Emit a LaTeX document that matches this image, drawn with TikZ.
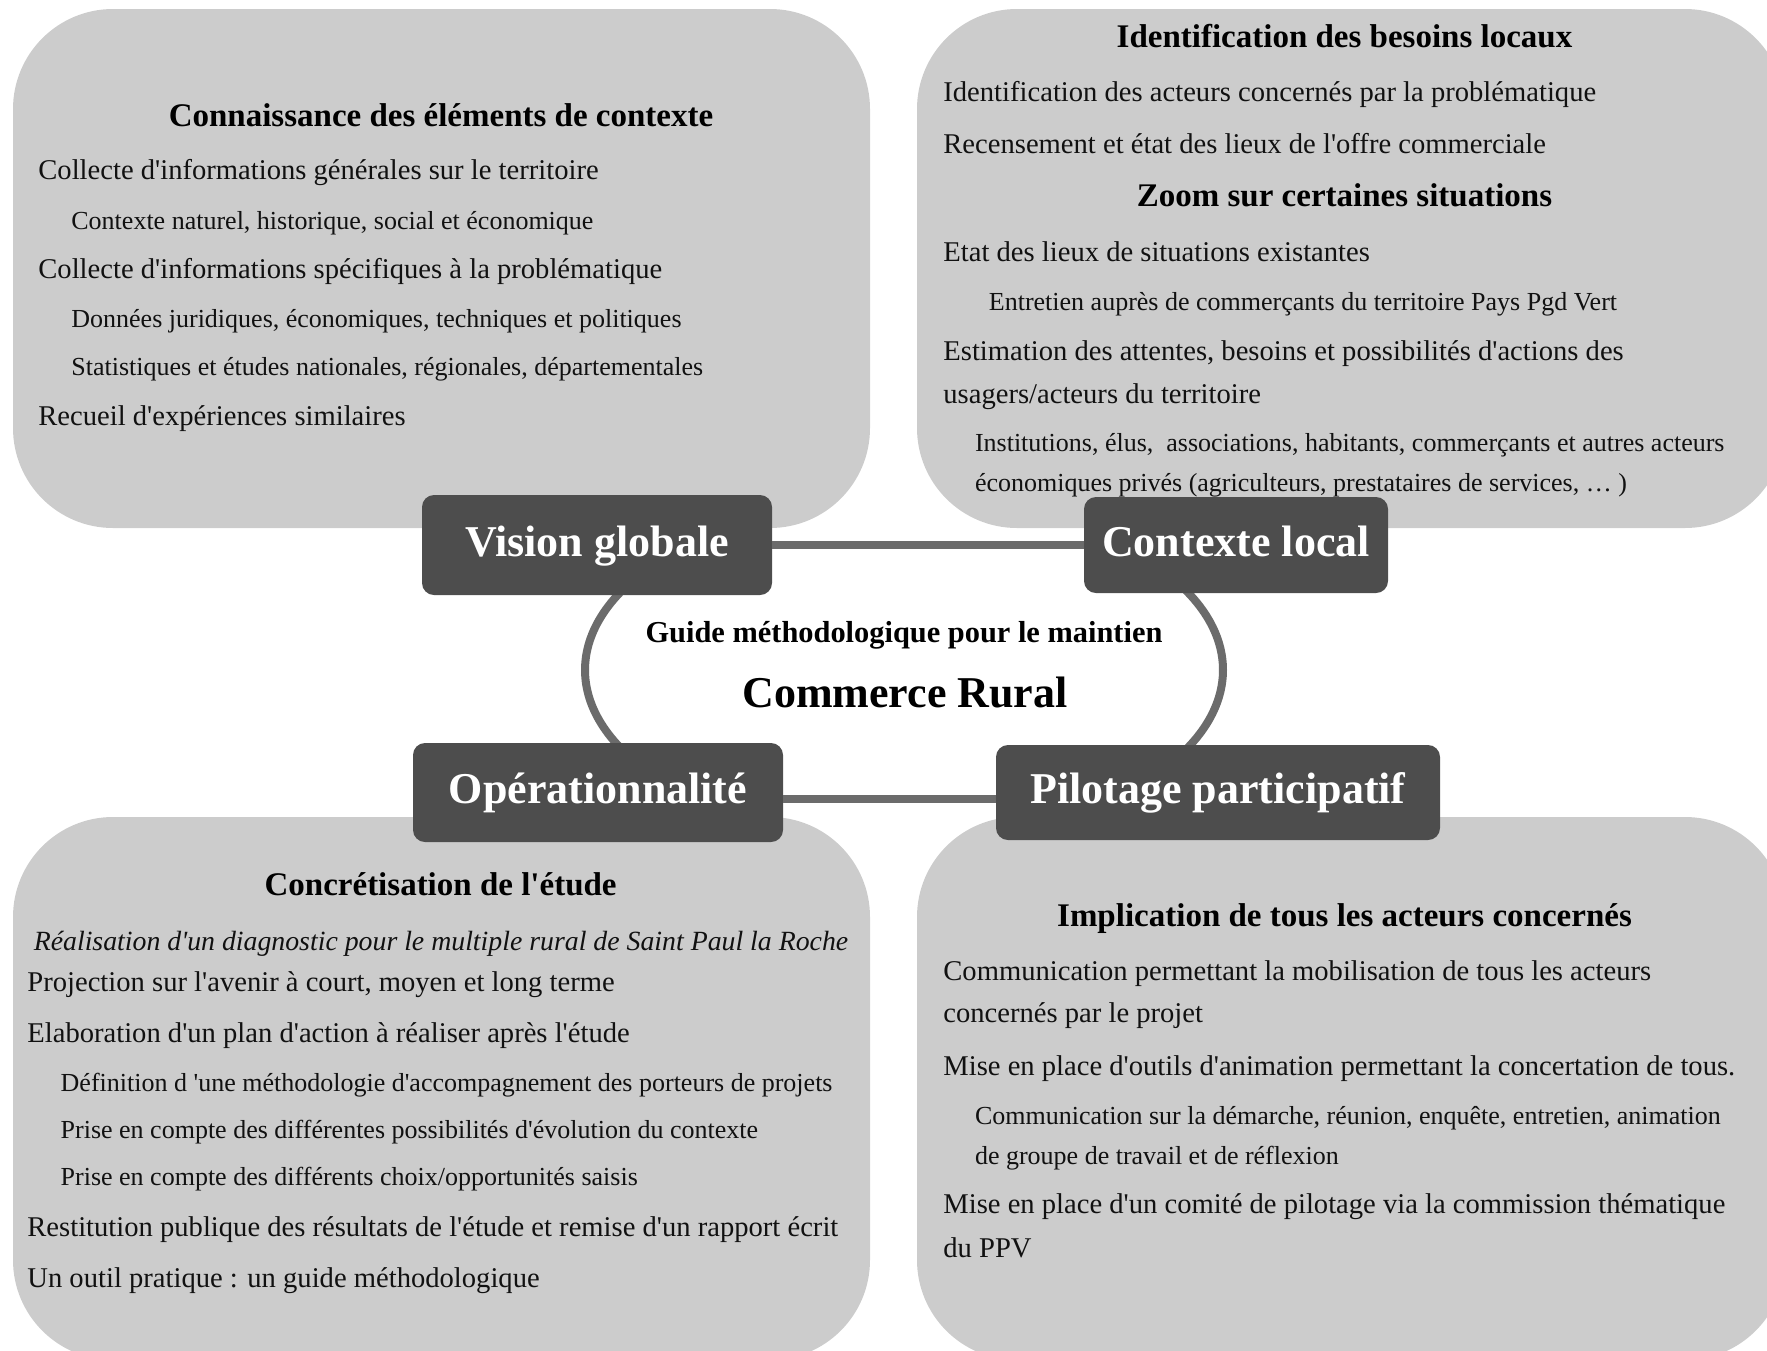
\documentclass[tikz,border=0pt]{standalone}
\usepackage{fontspec}
\setmainfont{Liberation Serif}[Ligatures=TeXOff]
\definecolor{gboxc}{HTML}{CCCCCC}
\definecolor{dboxc}{HTML}{4D4D4D}
\definecolor{linec}{HTML}{6B6B6B}
\definecolor{txtc}{HTML}{111111}
\tikzset{
  gbox/.style={fill=gboxc, rounded corners=50pt, inner sep=0pt, draw=none},
  dbox/.style={fill=dboxc, rounded corners=6pt, text=white, inner sep=0pt, text height=15pt, text depth=3.9pt, font=\fontsize{22}{26}\selectfont\bfseries},
  bodyt/.style={anchor=base west, inner sep=0pt, text=txtc, font=\fontsize{14.3}{17}\selectfont},
  subt/.style={anchor=base west, inner sep=0pt, text=txtc, font=\fontsize{13}{16}\selectfont},
  ttlt/.style={anchor=base, inner sep=0pt, text=black, font=\fontsize{16.5}{20}\selectfont\bfseries},
  itlt/.style={anchor=base, inner sep=0pt, text=txtc, font=\fontsize{13.9}{17}\selectfont\itshape},
  conn/.style={draw=linec, line width=4pt},
}
\begin{document}
\begin{tikzpicture}[x=0.5pt, y=-0.5pt]
\useasboundingbox (0,0) rectangle (1767,1350);
\clip (0,0) rectangle (1767,1350);
% gray panels
\node[gbox, minimum width=428.5pt, minimum height=259.5pt] (tlbox) at (441.5,268.5) {};
\node[gbox, minimum width=434pt, minimum height=259.5pt] (trbox) at (1351,268.5) {};
\node[gbox, minimum width=428.5pt, minimum height=271.5pt] (blbox) at (441.5,1088.5) {};
\node[gbox, minimum width=434pt, minimum height=271.5pt] (brbox) at (1351,1088.5) {};
% ring arcs
\coordinate (ring) at (904,670);
\draw[conn] (ring) ++(140:159.5pt and 85pt) arc[start angle=140, end angle=220, x radius=159.5pt, y radius=85pt];
\draw[conn] (ring) ++(-40:159.5pt and 85pt) arc[start angle=-40, end angle=40, x radius=159.5pt, y radius=85pt];
% dark boxes
\node[dbox, minimum width=175pt, minimum height=50pt] (vg) at (597,545) {Vision globale};
\node[dbox, minimum width=152pt, minimum height=48pt] (cl) at (1236,545) {Contexte local};
\node[dbox, minimum width=185pt, minimum height=49.5pt] (op) at (598,792.5) {Opérationnalité};
\node[dbox, minimum width=222pt, minimum height=47.5pt] (pp) at (1218,792.5) {Pilotage participatif};
\draw[conn] (vg.east) -- (cl.west);
\draw[conn] ([yshift=-3.25pt]op.east) -- ([yshift=-3.25pt]pp.west);
% center
\node[anchor=base, inner sep=0pt, font=\fontsize{15.2}{18}\selectfont\bfseries] (guide) at (904,642) {Guide méthodologique pour le maintien};
\node[anchor=base, inner sep=0pt, font=\fontsize{22}{26}\selectfont\bfseries] (cr) at (905,707) {Commerce Rural};
% top-left panel
\node[ttlt] (tl0) at (441,126) {Connaissance des éléments de contexte};
\node[bodyt] (tl1) at (38,179) {Collecte d'informations générales sur le territoire};
\node[subt] (tl2) at (71,229) {Contexte naturel, historique, social et économique};
\node[bodyt] (tl3) at (38,278) {Collecte d'informations spécifiques à la problématique};
\node[subt] (tl4) at (71,327) {Données juridiques, économiques, techniques et politiques};
\node[subt] (tl5) at (71,375) {Statistiques et études nationales, régionales, départementales};
\node[bodyt] (tl6) at (38,425) {Recueil d'expériences similaires};
% top-right panel
\node[ttlt] (tr0) at (1344.5,47.5) {Identification des besoins locaux};
\node[bodyt] (tr1) at (943,101.6) {Identification des acteurs concernés par la problématique};
\node[bodyt] (tr2) at (943,153) {Recensement et état des lieux de l'offre commerciale};
\node[ttlt] (tr3) at (1344.5,206.6) {Zoom sur certaines situations};
\node[bodyt] (tr4) at (943,261.7) {Etat des lieux de situations existantes};
\node[subt] (tr5) at (988.5,310) {Entretien auprès de commerçants du territoire Pays Pgd Vert};
\node[bodyt] (tr6) at (943,360) {Estimation des attentes, besoins et possibilités d'actions des};
\node[bodyt] (tr7) at (943,403.6) {usagers/acteurs du territoire};
\node[subt] (tr8) at (974.6,451) {Institutions, élus,\ \ associations, habitants, commerçants et autres acteurs};
\node[subt] (tr9) at (974.6,491.7) {économiques privés (agriculteurs, prestataires de services, … )};
% bottom-left panel
\node[ttlt] (bl0) at (440.6,895.4) {Concrétisation de l'étude};
\node[itlt] (bl1) at (441,950.8) {Réalisation d'un diagnostic pour le multiple rural de Saint Paul la Roche};
\node[bodyt] (bl2) at (27,991) {Projection sur l'avenir à court, moyen et long terme};
\node[bodyt] (bl3) at (27,1042) {Elaboration d'un plan d'action à réaliser après l'étude};
\node[subt] (bl4) at (60.3,1091) {Définition d 'une méthodologie d'accompagnement des porteurs de projets};
\node[subt] (bl5) at (60.3,1138.5) {Prise en compte des différentes possibilités d'évolution du contexte};
\node[subt] (bl6) at (60.3,1185.8) {Prise en compte des différents choix/opportunités saisis};
\node[bodyt] (bl7) at (27,1236.7) {Restitution publique des résultats de l'étude et remise d'un rapport écrit};
\node[bodyt] (bl8) at (27,1287.5) {Un outil pratique : un guide méthodologique};
% bottom-right panel
\node[ttlt] (br0) at (1344.5,926.3) {Implication de tous les acteurs concernés};
\node[bodyt] (br1) at (943,980.6) {Communication permettant la mobilisation de tous les acteurs};
\node[bodyt] (br2) at (943,1022.7) {concernés par le projet};
\node[bodyt] (br3) at (943,1075.3) {Mise en place d'outils d'animation permettant la concertation de tous.};
\node[subt] (br4) at (974.6,1124.4) {Communication sur la démarche, réunion, enquête, entretien, animation};
\node[subt] (br5) at (974.6,1164.8) {de groupe de travail et de réflexion};
\node[bodyt] (br6) at (943,1213.9) {Mise en place d'un comité de pilotage via la commission thématique};
\node[bodyt] (br7) at (943,1257.7) {du PPV};
\end{tikzpicture}
\end{document}
